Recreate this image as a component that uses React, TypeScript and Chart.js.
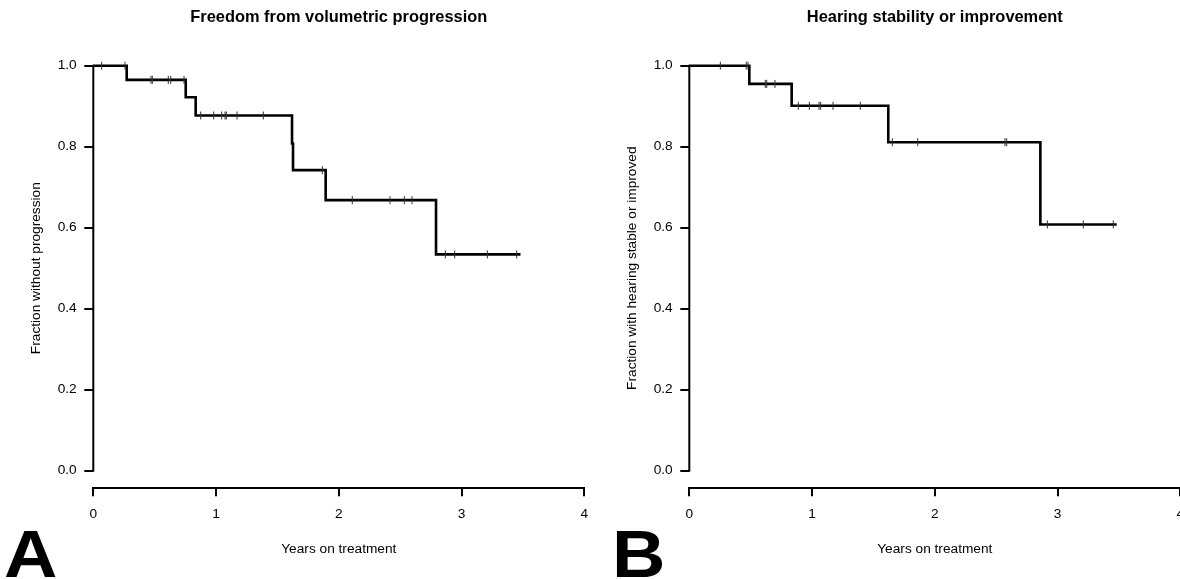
import React, { useEffect, useRef } from "react";
import { Chart, registerables } from "chart.js";

Chart.register(...registerables);

// ---------- data ----------
const X_TICKS = [0, 1, 2, 3, 4];
const Y_TICKS = [0, 0.2, 0.4, 0.6, 0.8, 1.0];

// Panel A: freedom from volumetric progression
const A_EVENT_TIMES = [0.272, 0.753, 0.834, 1.619, 1.627, 1.893, 2.792];
const A_SURVIVAL = [0.965, 0.922, 0.877, 0.808, 0.742, 0.668, 0.534];
const A_END_TIME = 3.48;
const A_CENSOR_TIMES = [
  0.068, 0.258, 0.47, 0.481, 0.611, 0.631, 0.739, 0.875, 0.981, 1.046, 1.073,
  1.084, 1.171, 1.385, 1.866, 2.11, 2.417, 2.534, 2.596, 2.868, 2.944, 3.21,
  3.449,
];

// Panel B: hearing stability or improvement
const B_EVENT_TIMES = [0.489, 0.834, 1.621, 2.86];
const B_SURVIVAL = [0.955, 0.901, 0.811, 0.608];
const B_END_TIME = 3.482;
const B_CENSOR_TIMES = [
  0.253, 0.464, 0.478, 0.619, 0.631, 0.698, 0.888, 0.978, 1.057, 1.07, 1.171,
  1.393, 1.654, 1.861, 2.572, 2.586, 2.917, 3.21, 3.454,
];

const FONT = '"Liberation Sans", Arial, sans-serif';

function survivalAt(times: number[], surv: number[], t: number) {
  let s = 1;
  for (let i = 0; i < times.length; i++) {
    if (times[i] <= t) s = surv[i];
  }
  return s;
}

const yAxisLinePlugin = {
  id: "yAxisLine",
  afterDraw(chart: any) {
    const { ctx, chartArea, scales } = chart;
    const y = scales.y;
    ctx.save();
    ctx.strokeStyle = "#000";
    ctx.lineWidth = 2;
    ctx.beginPath();
    ctx.moveTo(chartArea.left, y.getPixelForValue(0) + 1);
    ctx.lineTo(chartArea.left, y.getPixelForValue(1) - 1);
    ctx.stroke();
    // y axis title, centred on the 0..1 range
    const label = chart.options.plugins.yTitle?.text || "";
    ctx.fillStyle = "#000";
    ctx.font = `13.7px ${FONT}`;
    ctx.textAlign = "center";
    ctx.textBaseline = "middle";
    ctx.translate(36, y.getPixelForValue(0.5));
    ctx.rotate(-Math.PI / 2);
    ctx.fillText(label, 0, 0);
    ctx.restore();
  },
};

function KMChart(props: {
  title: string;
  yLabel: string;
  eventTimes: number[];
  survival: number[];
  endTime: number;
  censorTimes: number[];
}) {
  const ref = useRef<HTMLCanvasElement | null>(null);
  useEffect(() => {
    if (!ref.current) return;
    const { eventTimes, survival, endTime, censorTimes } = props;
    const stepData = [{ x: 0, y: 1 }];
    eventTimes.forEach((t, i) => stepData.push({ x: t, y: survival[i] }));
    stepData.push({ x: endTime, y: survival[survival.length - 1] });
    const censorData = censorTimes.map((t) => ({
      x: t,
      y: survivalAt(eventTimes, survival, t),
    }));
    const tickFont = { family: FONT, size: 13.7 };
    const chart = new Chart(ref.current, {
      type: "line",
      data: {
        datasets: [
          {
            data: censorData,
            showLine: false,
            pointStyle: "line",
            rotation: 90,
            pointRadius: 4,
            pointBorderWidth: 1,
            borderColor: "#333",
            pointBorderColor: "#333",
            clip: false,
          } as any,
          {
            data: stepData,
            stepped: true,
            borderColor: "#000",
            borderWidth: 2.6,
            pointRadius: 0,
            fill: false,
            clip: false,
          } as any,
        ],
      },
      options: {
        animation: false,
        responsive: false,
        maintainAspectRatio: false,
        events: [],
        layout: { padding: { left: 0, right: 5.7, top: 0, bottom: 0 } },
        plugins: {
          legend: { display: false },
          tooltip: { enabled: false },
          title: {
            display: true,
            text: props.title,
            fullSize: false,
            color: "#000",
            font: { family: FONT, size: 16.4, weight: "bold" },
            padding: { top: 7.5, bottom: 38.5 },
          },
          yTitle: { text: props.yLabel },
        } as any,
        scales: {
          x: {
            type: "linear",
            min: 0,
            max: 4,
            afterBuildTicks: (s: any) => {
              s.ticks = X_TICKS.map((v) => ({ value: v }));
            },
            afterFit: (s: any) => {
              s.height = 90.7;
              s.paddingLeft = 0;
              s.paddingRight = 0;
            },
            ticks: {
              color: "#000",
              font: tickFont,
              padding: 10,
              maxRotation: 0,
              autoSkip: false,
              callback: (v: any) => String(v),
            },
            grid: {
              drawOnChartArea: false,
              drawTicks: true,
              tickLength: 8,
              lineWidth: 2,
              color: "#000",
            },
            border: { display: true, width: 2, color: "#000" },
            title: {
              display: true,
              text: "Years on treatment",
              color: "#000",
              font: tickFont,
              padding: { top: 0, bottom: 22 },
            },
          },
          y: {
            type: "linear",
            min: -0.0435,
            max: 1,
            afterBuildTicks: (s: any) => {
              s.ticks = Y_TICKS.map((v) => ({ value: v }));
            },
            afterFit: (s: any) => {
              s.width = 93.3;
              s.paddingTop = 0;
              s.paddingBottom = 0;
            },
            ticks: {
              color: "#000",
              font: tickFont,
              padding: 7.6,
              autoSkip: false,
              callback: (v: any) => Number(v).toFixed(1),
            },
            grid: {
              drawOnChartArea: false,
              drawTicks: true,
              tickLength: 9,
              lineWidth: 2,
              color: "#000",
            },
            border: { display: false },
          },
        },
      } as any,
      plugins: [yAxisLinePlugin],
    });
    return () => chart.destroy();
  }, []);
  return <canvas ref={ref} width={590} height={579} style={{ width: 590, height: 579, display: "block" }} />;
}

export default function App() {
  const letterStyle: React.CSSProperties = {
    position: "absolute",
    top: 521,
    fontFamily: FONT,
    fontWeight: "bold",
    fontSize: 66,
    lineHeight: "66px",
    color: "#000",
    transform: "scaleX(1.12)",
    transformOrigin: "left top",
  };
  return (
    <div
      style={{
        position: "absolute",
        left: 0,
        top: 0,
        width: 1180,
        height: 579,
        overflow: "hidden",
        background: "#fff",
      }}
    >
      <div style={{ position: "absolute", left: 0, top: 0 }}>
        <KMChart
          title="Freedom from volumetric progression"
          yLabel="Fraction without progression"
          eventTimes={A_EVENT_TIMES}
          survival={A_SURVIVAL}
          endTime={A_END_TIME}
          censorTimes={A_CENSOR_TIMES}
        />
      </div>
      <div style={{ position: "absolute", left: 596, top: 0 }}>
        <KMChart
          title="Hearing stability or improvement"
          yLabel="Fraction with hearing stable or improved"
          eventTimes={B_EVENT_TIMES}
          survival={B_SURVIVAL}
          endTime={B_END_TIME}
          censorTimes={B_CENSOR_TIMES}
        />
      </div>
      <div style={{ ...letterStyle, left: 4 }}>A</div>
      <div style={{ ...letterStyle, left: 612 }}>B</div>
    </div>
  );
}
